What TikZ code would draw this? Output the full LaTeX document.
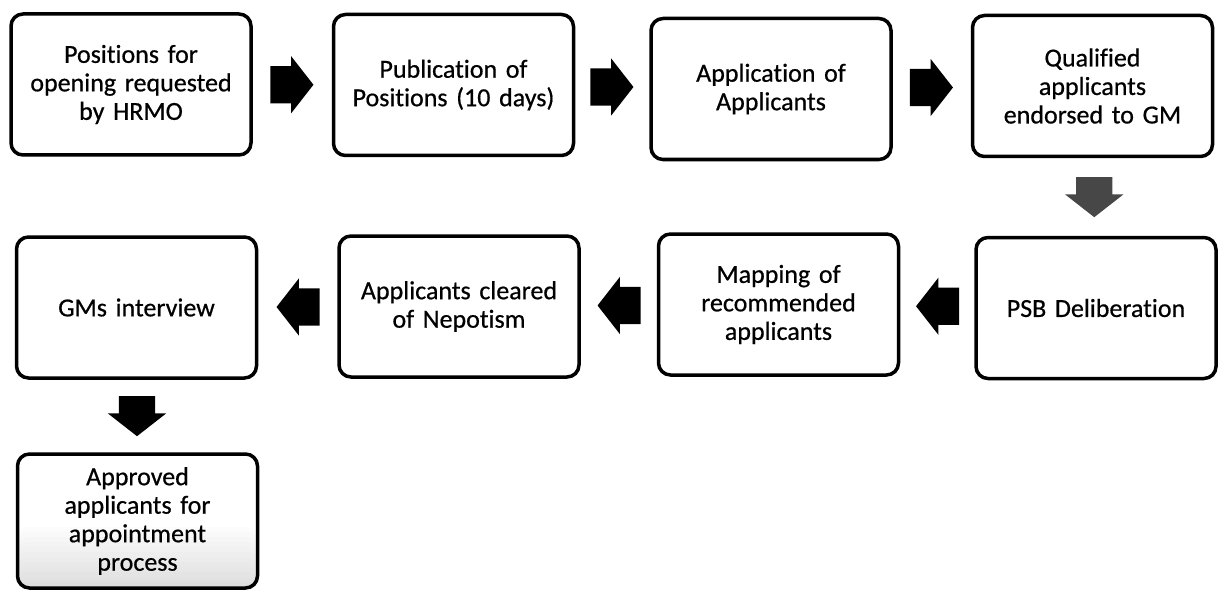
\documentclass[tikz,border=0pt]{standalone}
\usepackage{fontspec}
\setmainfont{Carlito}[RawFeature=-liga, FakeBold=0.6]
\usetikzlibrary{shapes.arrows,calc}
\begin{document}
\begin{tikzpicture}[x=1pt,y=-1pt,
  stepbox/.style={draw=black, line width=3.5pt, rounded corners=12pt,
    minimum width=240pt, minimum height=141pt, inner sep=0pt,
    text width=232pt, align=center,
    font=\fontsize{26}{28.5}\selectfont},
  blockarrow/.style={single arrow, fill=black, draw=none, anchor=tail,
    inner xsep=0pt, inner ysep=18.5pt,
    single arrow tip angle=104, single arrow head extend=10pt,
    minimum height=43pt},
  downarrow/.style={blockarrow, shape border rotate=270, minimum height=40pt,
    inner xsep=18pt, inner ysep=0pt, single arrow head extend=11pt},
  leftarrow/.style={blockarrow, shape border rotate=180}]
\useasboundingbox (0,0) rectangle (1218,591);

% first row, left to right
\node[stepbox] (n1) at (131,84.5) {Positions for\\opening requested\\by HRMO};
\node[stepbox] (n2) at (453.5,85) {Publication of\\Positions (10 days)};
\node[stepbox] (n3) at (771,89) {Application of\\Applicants};
\node[stepbox] (n4) at (1092.5,86) {Qualified\\applicants\\endorsed to GM};

% second row, right to left
\node[stepbox] (n5) at (1096,308) {PSB Deliberation};
\node[stepbox] (n6) at (778.5,304.5) {Mapping of\\recommended\\applicants};
\node[stepbox] (n7) at (459,306.5) {Applicants cleared\\of Nepotism};
\node[stepbox] (n8) at (136.5,307.5) {GMs interview};

% final step, with a light grey haze that thickens towards its bottom edge
\node[stepbox, minimum height=134pt,
  path picture={
    \foreach \k in {0,...,11}{
      \fill[gray, opacity=0.025]
        ($(path picture bounding box.south west)+(-2,2)$) rectangle
        ($(path picture bounding box.south east)+(2,-6-5*\k)$);}}]
  (n9) at (137.5,521) {Approved\\applicants for\\appointment\\process};

% block arrows between the steps, each centred in its gap (tail half a length back)
\node[blockarrow] (a1) at ($(n1.east)!0.5!(n2.west)+(-22,0)$) {};
\node[blockarrow] (a2) at ($(n2.east)!0.5!(n3.west)+(-22,0)$) {};
\node[blockarrow] (a3) at ($(n3.east)!0.5!(n4.west)+(-22,0)$) {};
\node[downarrow, fill=black!72] (a4) at ($(n4.south)!0.5!(n5.north)+(0,-20)$) {};
\node[leftarrow] (a5) at ($(n5.west)!0.5!(n6.east)+(22,0)$) {};
\node[leftarrow] (a6) at ($(n6.west)!0.5!(n7.east)+(22,0)$) {};
\node[leftarrow] (a7) at ($(n7.west)!0.5!(n8.east)+(22,0)$) {};
\node[downarrow] (a8) at ($(n8.south)!0.5!(n9.north)+(0,-20)$) {};
\end{tikzpicture}
\end{document}
